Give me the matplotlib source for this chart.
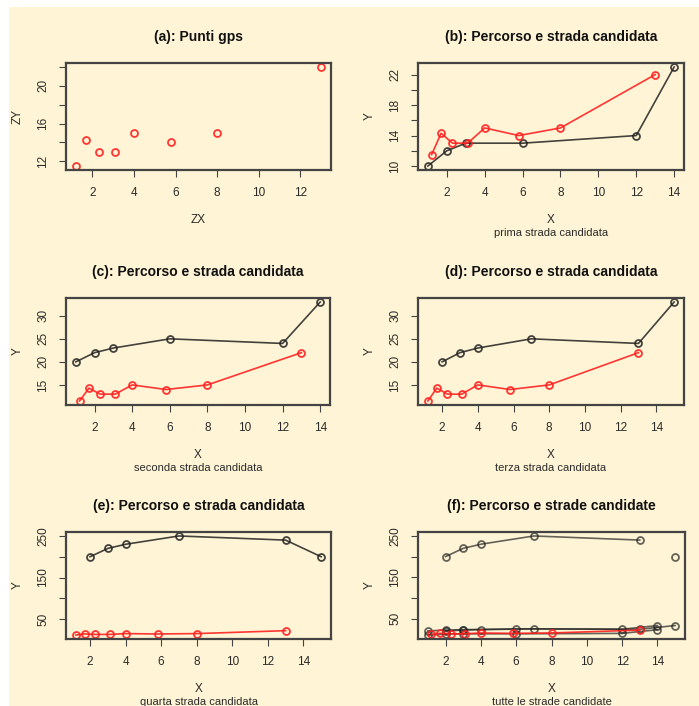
import matplotlib
matplotlib.use("Agg")
import matplotlib.pyplot as plt
from matplotlib.patches import Rectangle

# ─── DATA ───────────────────────────────────────────────────────────────────
gps_x = [1.2, 1.7, 2.3, 3.1, 4, 5.8, 8, 13]
gps_y = [11.5, 14.3, 13, 13, 15, 14, 15, 22]

road1_x = [1, 2, 3, 6, 12, 14]
road1_y = [10, 12, 13, 13, 14, 23]
road2_x = [1, 2, 3, 6, 12, 14]
road2_y = [20, 22, 23, 25, 24, 33]
road3_x = [2, 3, 4, 7, 13, 15]
road3_y = [20, 22, 23, 25, 24, 33]
road4_x = [2, 3, 4, 7, 13, 15]
road4_y = [200, 220, 230, 250, 240, 200]

subtitles = ["prima strada candidata", "seconda strada candidata",
             "terza strada candidata", "quarta strada candidata",
             "tutte le strade candidate"]

# ─── STYLE ──────────────────────────────────────────────────────────────────
BG     = "#FFF5D6"
BOX    = "#444444"
TXT    = "#2a2a2a"
RED    = "#FF2020"
DARK   = "#222222"
W, H   = 699, 706

plt.rcParams["font.family"] = ["Liberation Sans", "DejaVu Sans"]

fig = plt.figure(figsize=(W / 100, H / 100), dpi=100, facecolor="white")
fig.patches.append(Rectangle((9 / W, 0), 1, 1 - 7 / H, transform=fig.transFigure,
                             facecolor=BG, edgecolor="none", zorder=-10))


def make_ax(x0, y0, x1, y1):
    ax = fig.add_axes([x0 / W, 1 - y1 / H, (x1 - x0) / W, (y1 - y0) / H])
    ax.set_facecolor(BG)
    for s in ax.spines.values():
        s.set_color(BOX)
        s.set_linewidth(1.6)
    ax.tick_params(length=5, width=0.8, color=BOX, labelcolor=TXT,
                   labelsize=8.5, pad=7)
    return ax


def r_limits(ax, xs, ys):
    # R style 4% padding around the data range
    xmin, xmax = min(xs), max(xs)
    ymin, ymax = min(ys), max(ys)
    dx, dy = (xmax - xmin) * 0.04, (ymax - ymin) * 0.04
    ax.set_xlim(xmin - dx, xmax + dx)
    ax.set_ylim(ymin - dy, ymax + dy)


def set_yticks(ax, ticks, labelled):
    ax.set_yticks(ticks)
    ax.set_yticklabels([str(t) if t in labelled else "" for t in ticks],
                       rotation=90, va="center")


def decorate(ax, title, xlab, ylab, sub=None):
    ax.annotate(title, (0.5, 1), xycoords="axes fraction", xytext=(0, 26),
                textcoords="offset pixels", ha="center", va="center",
                fontsize=10, fontweight="bold", color="#111111")
    ax.annotate(xlab, (0.5, 0), xycoords="axes fraction", xytext=(0, -50),
                textcoords="offset pixels", ha="center", va="center",
                fontsize=8.5, color=TXT)
    ax.annotate(ylab, (0, 0.5), xycoords="axes fraction", xytext=(-48, 0),
                textcoords="offset pixels", ha="center", va="center",
                fontsize=8.5, color=TXT, rotation=90)
    if sub:
        ax.annotate(sub, (0.5, 0), xycoords="axes fraction", xytext=(0, -63),
                    textcoords="offset pixels", ha="center", va="center",
                    fontsize=8, color=TXT)


def road(ax, xs, ys, lines=True, alpha=0.85):
    ax.plot(xs, ys, color=DARK, lw=1.2, alpha=alpha,
            ls="-" if lines else "none",
            marker="o", ms=5, mfc="none", mec=DARK, mew=1.3)


def gps(ax, lines=True):
    ax.plot(gps_x, gps_y, color=RED, lw=1.2, ls="-" if lines else "none",
            marker="o", ms=5, mfc="none", mec=RED, mew=1.3, alpha=0.9)


# ─── (a) ────────────────────────────────────────────────────────────────────
ax = make_ax(66, 63, 331, 170)
gps(ax, lines=False)
r_limits(ax, gps_x, gps_y)
ax.set_xticks([2, 4, 6, 8, 10, 12])
set_yticks(ax, [12, 14, 16, 18, 20, 22], [12, 16, 20])
decorate(ax, "(a): Punti gps", "ZX", "ZY")

# ─── (b) ────────────────────────────────────────────────────────────────────
ax = make_ax(418, 63, 684, 170)
road(ax, road1_x, road1_y)
gps(ax)
r_limits(ax, road1_x + gps_x, road1_y + gps_y)
ax.set_xticks([2, 4, 6, 8, 10, 12, 14])
set_yticks(ax, [10, 12, 14, 16, 18, 20, 22], [10, 14, 18, 22])
decorate(ax, "(b): Percorso e strada candidata", "X", "Y", subtitles[0])

# ─── (c) ────────────────────────────────────────────────────────────────────
ax = make_ax(66, 298, 330, 405)
road(ax, road2_x, road2_y)
gps(ax)
r_limits(ax, road2_x + gps_x, road2_y + gps_y)
ax.set_xticks([2, 4, 6, 8, 10, 12, 14])
set_yticks(ax, [15, 20, 25, 30], [15, 20, 25, 30])
decorate(ax, "(c): Percorso e strada candidata", "X", "Y", subtitles[1])

# ─── (d) ────────────────────────────────────────────────────────────────────
ax = make_ax(418, 298, 684, 405)
road(ax, road3_x, road3_y)
gps(ax)
r_limits(ax, road3_x + gps_x, road3_y + gps_y)
ax.set_xticks([2, 4, 6, 8, 10, 12, 14])
set_yticks(ax, [15, 20, 25, 30], [15, 20, 25, 30])
decorate(ax, "(d): Percorso e strada candidata", "X", "Y", subtitles[2])

# ─── (e) ────────────────────────────────────────────────────────────────────
ax = make_ax(66, 532, 331, 639)
road(ax, road4_x, road4_y)
gps(ax)
r_limits(ax, road4_x + gps_x, road4_y + gps_y)
ax.set_xticks([2, 4, 6, 8, 10, 12, 14])
set_yticks(ax, [50, 100, 150, 200, 250], [50, 150, 250])
decorate(ax, "(e): Percorso e strada candidata", "X", "Y", subtitles[3])

# ─── (f) ────────────────────────────────────────────────────────────────────
ax = make_ax(418, 532, 685, 639)
road(ax, road1_x, road1_y, alpha=0.7)
road(ax, road2_x, road2_y, alpha=0.7)
road(ax, road3_x, road3_y, alpha=0.7)
road(ax, road4_x[:-1], road4_y[:-1], alpha=0.7)
road(ax, road4_x[-1:], road4_y[-1:], lines=False, alpha=0.7)
gps(ax)
all_x = road1_x + road2_x + road3_x + road4_x + gps_x
all_y = road1_y + road2_y + road3_y + road4_y + gps_y
r_limits(ax, all_x, all_y)
ax.set_xticks([2, 4, 6, 8, 10, 12, 14])
set_yticks(ax, [50, 100, 150, 200, 250], [50, 150, 250])
decorate(ax, "(f): Percorso e strade candidate", "X", "Y", subtitles[4])

fig.savefig("out.png", dpi=100, facecolor=fig.get_facecolor())
